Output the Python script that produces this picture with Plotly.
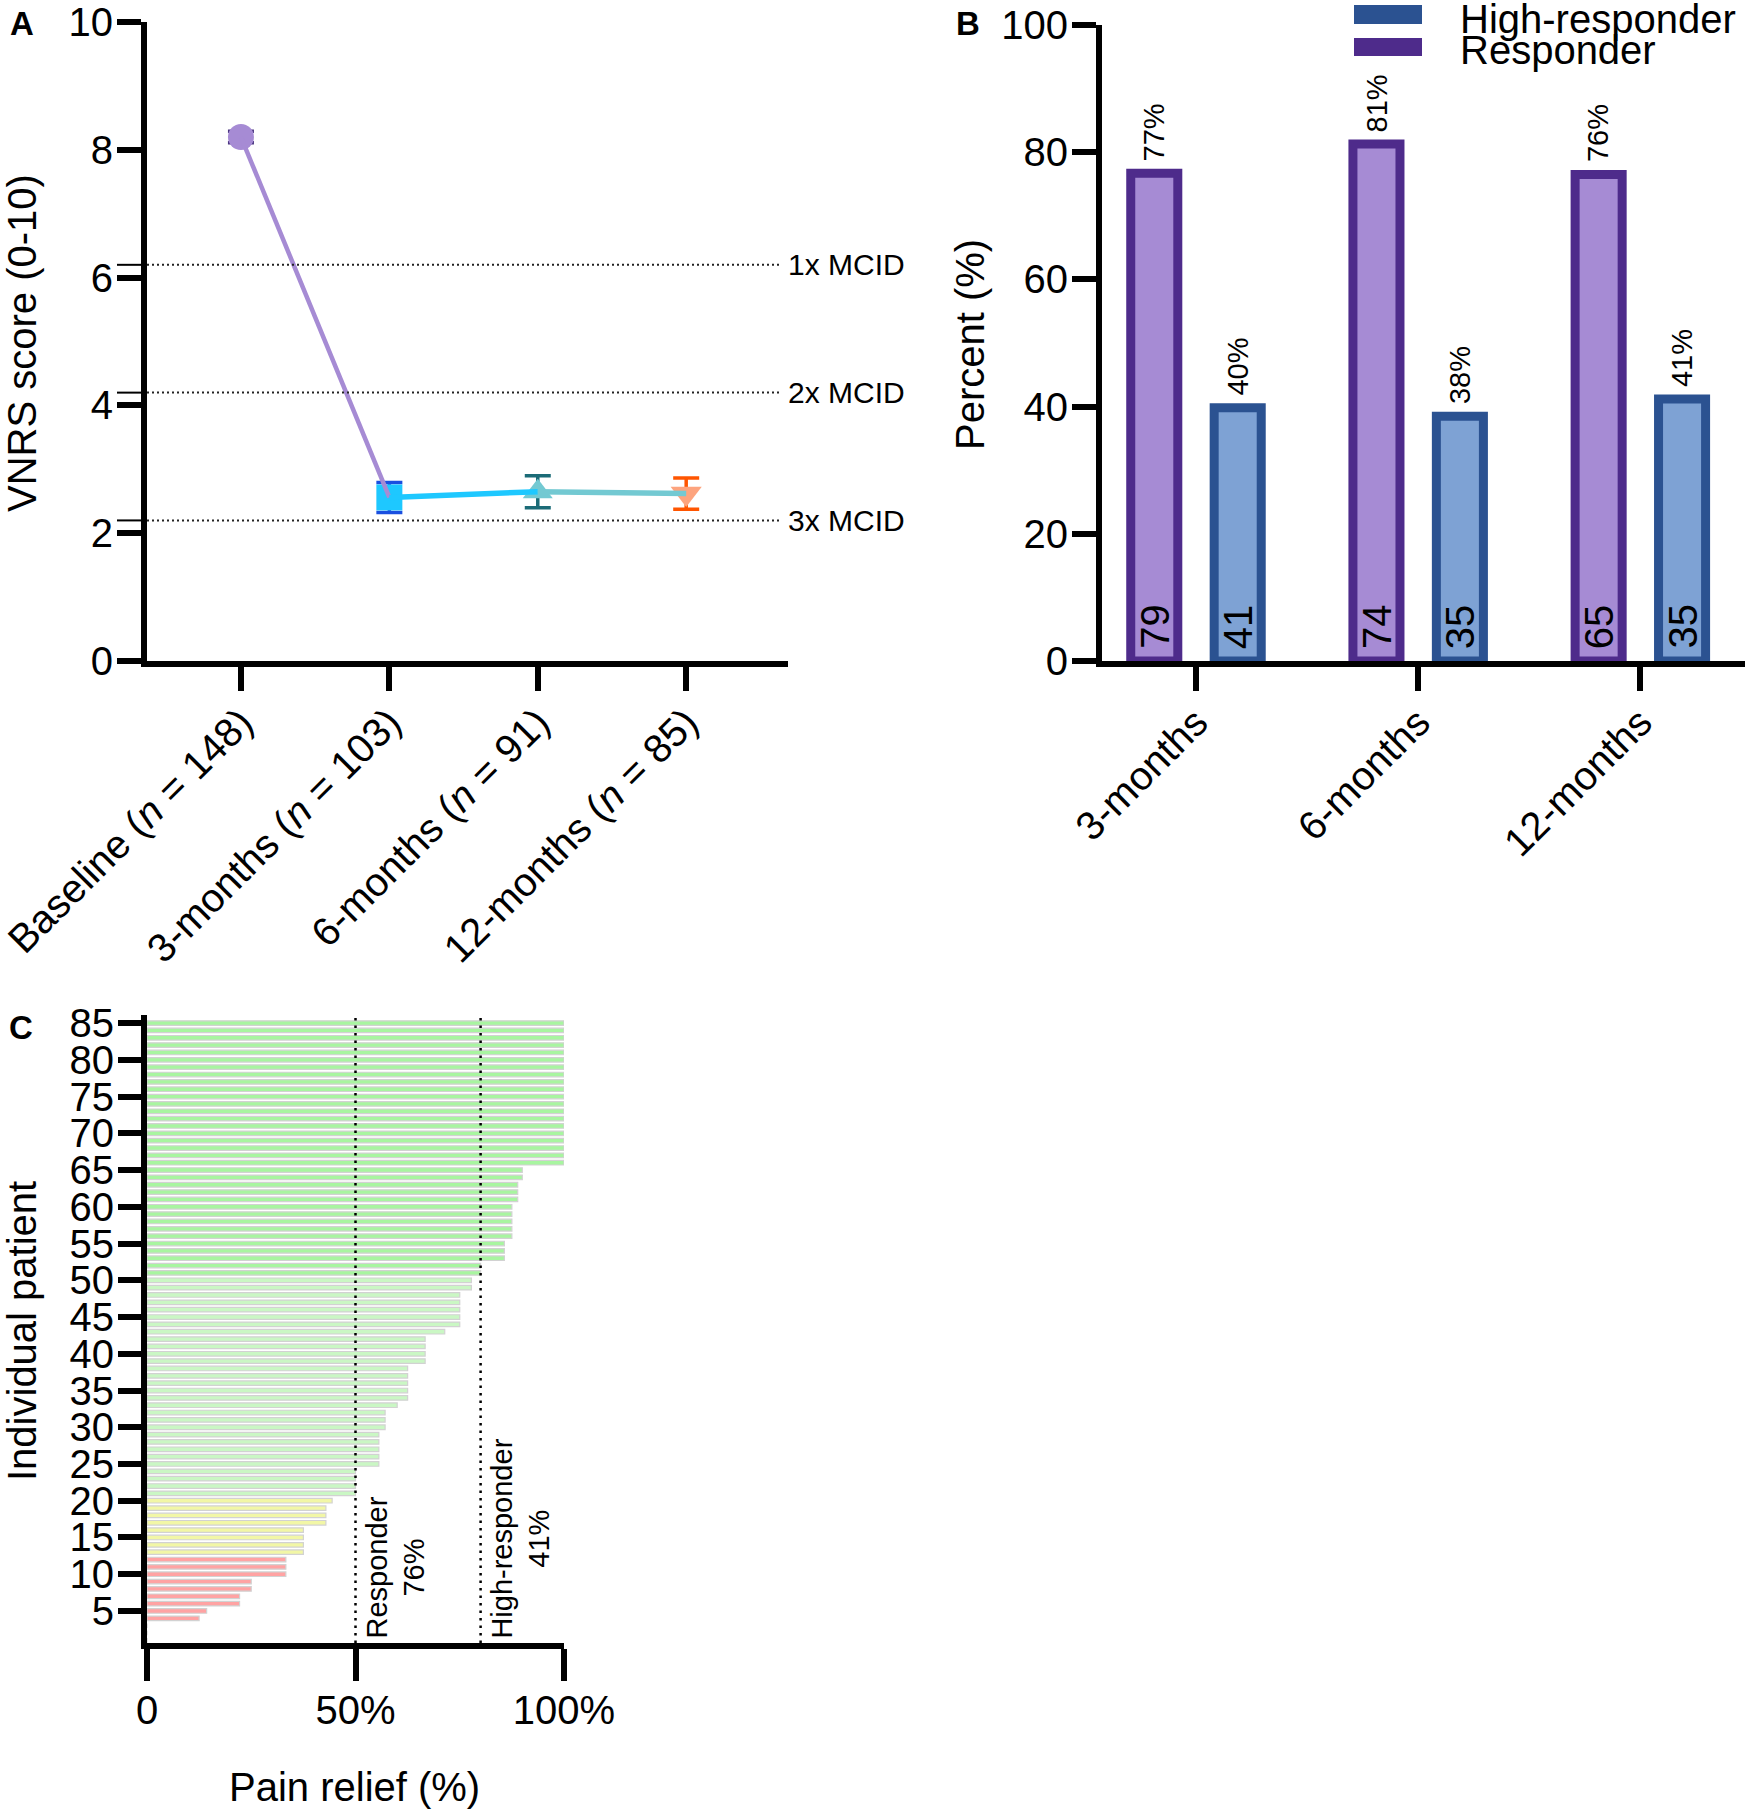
import plotly.graph_objects as go

# ---------------- data ----------------
# Panel A
timepoints = ["Baseline (<i>n</i> = 148)", "3-months (<i>n</i> = 103)",
              "6-months (<i>n</i> = 91)", "12-months (<i>n</i> = 85)"]
vnrs_mean = [8.20, 2.56, 2.65, 2.62]
vnrs_err = [0.09, 0.235, 0.25, 0.245]
mcid_levels = [6.2, 4.2, 2.2]
mcid_labels = ["1x MCID", "2x MCID", "3x MCID"]

# Panel B
months = ["3-months", "6-months", "12-months"]
responder_pct = [76.7, 81.3, 76.5]
high_pct = [39.8, 38.5, 41.2]
responder_lbl = ["77%", "81%", "76%"]
high_lbl = ["40%", "38%", "41%"]
responder_n = [79, 74, 65]
high_n = [41, 35, 35]

# Panel C (patients 1..85, sorted)
patients = list(range(1, 86))
pain_relief = ([0, 0, 0, 12.5, 14.3, 22.2, 22.2, 25, 25, 33.3, 33.3, 33.3,
                37.5, 37.5, 37.5, 37.5, 42.9, 42.9, 42.9, 44.4,
                50, 50, 50, 50, 55.6, 55.6, 55.6, 55.6, 55.6, 57.1, 57.1, 57.1,
                60, 62.5, 62.5, 62.5, 62.5, 62.5, 66.7, 66.7, 66.7, 66.7, 71.4,
                75, 75, 75, 75, 75, 77.8, 77.8, 80, 80, 85.7, 85.7, 85.7,
                87.5, 87.5, 87.5, 87.5, 87.5, 88.9, 88.9, 88.9, 90, 90]
               + [100] * 20)
thresholds = [50, 80]
threshold_labels = ["Responder<br>76%", "High-responder<br>41%"]

# ---------------- styling helpers ----------------
W, H = 1745, 1810
FONT = "Liberation Sans, Arial, sans-serif"


def px_x(p):
    return p / W


def px_y(p):
    return 1 - p / H


axis_common = dict(showline=True, linecolor="black", linewidth=6, ticks="outside",
                   tickwidth=6, tickcolor="black", showgrid=False, zeroline=False,
                   automargin=False, ticklabeloverflow="allow",
                   tickfont=dict(family=FONT, size=40, color="black"))

fig = go.Figure()

# ---------------- Panel A ----------------
mk_fill = ["#a68bd4", "#1ec8ff", "#73c9d2", "#fda47e"]
mk_cap = ["#4a3580", "#1a4fe0", "#1b6b77", "#ff5500"]
mk_sym = ["circle", "square", "triangle-up", "triangle-down"]
mk_size = [26, 26, 26, 27]
for i in range(4):
    fig.add_trace(go.Scatter(
        x=[i], y=[vnrs_mean[i]], mode="markers", xaxis="x", yaxis="y",
        marker=dict(symbol=mk_sym[i], size=mk_size[i], color=mk_fill[i], line=dict(width=0)),
        error_y=dict(type="data", array=[vnrs_err[i]], visible=True, color=mk_cap[i],
                     thickness=3.5, width=13),
        showlegend=False, hoverinfo="skip"))
seg_col = ["#a68bd4", "#1ec8ff", "#73c9d2"]
seg_w = [4.5, 5.5, 5.5]
for i in range(3):
    fig.add_trace(go.Scatter(
        x=[i, i + 1], y=[vnrs_mean[i], vnrs_mean[i + 1]], mode="lines",
        xaxis="x", yaxis="y", line=dict(color=seg_col[i], width=seg_w[i]),
        showlegend=False, hoverinfo="skip"))

for lvl, lab in zip(mcid_levels, mcid_labels):
    fig.add_shape(type="line", xref="x domain", yref="y", x0=0, x1=(782 - 147) / (788 - 147),
                  y0=lvl, y1=lvl, line=dict(color="#222222", width=2, dash="2px,3px"))
    fig.add_shape(type="line", xref="paper", yref="y", x0=px_x(117), x1=px_x(141),
                  y0=lvl, y1=lvl, line=dict(color="black", width=2))
    fig.add_annotation(text=lab, xref="paper", yref="y", x=px_x(786), y=lvl,
                       xanchor="left", yanchor="middle", showarrow=False,
                       font=dict(family=FONT, size=30, color="black"))

# ---------------- Panel B ----------------
fig.add_trace(go.Bar(x=months, y=responder_pct, xaxis="x2", yaxis="y2", name="Responder",
                     marker=dict(color="#a68bd4", line=dict(color="#4e2b8b", width=9)),
                     showlegend=False, hoverinfo="skip"))
fig.add_trace(go.Bar(x=months, y=high_pct, xaxis="x2", yaxis="y2", name="High-responder",
                     marker=dict(color="#7ea2d4", line=dict(color="#2b5291", width=9)),
                     showlegend=False, hoverinfo="skip"))
for m, v, lab, n in zip(months, responder_pct, responder_lbl, responder_n):
    fig.add_annotation(text=lab, x=m, y=v, xref="x2", yref="y2", xshift=-41.7, yshift=10,
                       textangle=-90, xanchor="center", yanchor="bottom", showarrow=False,
                       font=dict(family=FONT, size=29, color="black"))
    fig.add_annotation(text=str(n), x=m, y=0, xref="x2", yref="y2", xshift=-41.7, yshift=10,
                       textangle=-90, xanchor="center", yanchor="bottom", showarrow=False,
                       font=dict(family=FONT, size=40, color="black"))
for m, v, lab, n in zip(months, high_pct, high_lbl, high_n):
    fig.add_annotation(text=lab, x=m, y=v, xref="x2", yref="y2", xshift=41.7, yshift=10,
                       textangle=-90, xanchor="center", yanchor="bottom", showarrow=False,
                       font=dict(family=FONT, size=29, color="black"))
    fig.add_annotation(text=str(n), x=m, y=0, xref="x2", yref="y2", xshift=41.7, yshift=10,
                       textangle=-90, xanchor="center", yanchor="bottom", showarrow=False,
                       font=dict(family=FONT, size=40, color="black"))

# manual legend
fig.add_shape(type="rect", xref="paper", yref="paper", x0=px_x(1354), x1=px_x(1422),
              y0=px_y(24), y1=px_y(5), fillcolor="#2b5291", line=dict(width=0))
fig.add_shape(type="rect", xref="paper", yref="paper", x0=px_x(1354), x1=px_x(1422),
              y0=px_y(56), y1=px_y(38), fillcolor="#4e2b8b", line=dict(width=0))
fig.add_annotation(text="High-responder", xref="paper", yref="paper", x=px_x(1458), y=px_y(19),
                   xanchor="left", yanchor="middle", showarrow=False,
                   font=dict(family=FONT, size=40, color="black"))
fig.add_annotation(text="Responder", xref="paper", yref="paper", x=px_x(1458), y=px_y(50),
                   xanchor="left", yanchor="middle", showarrow=False,
                   font=dict(family=FONT, size=40, color="black"))


# ---------------- Panel C ----------------
def relief_color(v):
    if v >= 80:
        return "#a8f5a0"
    if v >= 50:
        return "#caf7c4"
    if v >= 35:
        return "#f2f7a6"
    return "#ffa3a3"


fig.add_trace(go.Bar(x=pain_relief, y=patients, orientation="h", xaxis="x3", yaxis="y3",
                     width=0.62,
                     marker=dict(color=[relief_color(v) for v in pain_relief],
                                 line=dict(color="#d2d2d2", width=1.2)),
                     showlegend=False, hoverinfo="skip"))
for t, lab in zip(thresholds, threshold_labels):
    fig.add_shape(type="line", xref="x3", yref="y3 domain", x0=t, x1=t, y0=0, y1=1,
                  line=dict(color="black", width=2.5, dash="2.5px,5px"))
    fig.add_annotation(text=lab, xref="x3", yref="paper", x=t, y=px_y(1641), xshift=3,
                       textangle=-90, xanchor="left", yanchor="bottom", showarrow=False,
                       align="center", font=dict(family=FONT, size=29, color="black"))

# ---------------- titles / panel letters ----------------
titles = [("VNRS score (0-10)", 22, 343), ("Percent (%)", 970, 345),
          ("Individual patient", 22, 1331)]
for txt, x, y in titles:
    fig.add_annotation(text=txt, xref="paper", yref="paper", x=px_x(x), y=px_y(y),
                       textangle=-90, xanchor="center", yanchor="middle", showarrow=False,
                       font=dict(family=FONT, size=40, color="black"))
fig.add_annotation(text="Pain relief (%)", xref="paper", yref="paper", x=px_x(354), y=px_y(1787),
                   xanchor="center", yanchor="middle", showarrow=False,
                   font=dict(family=FONT, size=40, color="black"))
for txt, x, y in [("A", 22, 23), ("B", 968, 23), ("C", 21, 1027)]:
    fig.add_annotation(text="<b>%s</b>" % txt, xref="paper", yref="paper", x=px_x(x), y=px_y(y),
                       xanchor="center", yanchor="middle", showarrow=False,
                       font=dict(family=FONT, size=33, color="black"))

# ---------------- axes ----------------
fig.update_layout(
    width=W, height=H, margin=dict(l=0, r=0, t=0, b=0, autoexpand=False),
    paper_bgcolor="white", plot_bgcolor="white",
    barmode="group", bargap=0.249, bargroupgap=0.436,
    showlegend=False,
    xaxis=dict(axis_common, domain=[px_x(147), px_x(788)], range=[-0.633, 3.686],
               tickvals=[0, 1, 2, 3], ticktext=timepoints, tickangle=-45, ticklen=24,
               ticklabelstandoff=-8, anchor="y"),
    yaxis=dict(axis_common, domain=[px_y(661), px_y(22)], range=[0, 10],
               tickvals=[0, 2, 4, 6, 8, 10], ticklen=24, ticklabelstandoff=-4, anchor="x"),
    xaxis2=dict(axis_common, domain=[px_x(1102), 1.0], range=[-0.423, 2.471],
                type="category", tickangle=-45, ticklen=24, ticklabelstandoff=-8,
                anchor="y2"),
    yaxis2=dict(axis_common, domain=[px_y(661), px_y(25)], range=[0, 100],
                tickvals=[0, 20, 40, 60, 80, 100], ticklen=24, ticklabelstandoff=-4,
                anchor="x2"),
    xaxis3=dict(axis_common, domain=[px_x(147), px_x(564)], range=[0, 100],
                tickvals=[0, 50, 100], ticktext=["0", "50%", "100%"], ticklen=32,
                ticklabelstandoff=-5, anchor="y3"),
    yaxis3=dict(axis_common, domain=[px_y(1643), px_y(1015)], range=[0.64, 86.1],
                tickvals=list(range(5, 86, 5)), ticklen=23, ticklabelstandoff=-4,
                anchor="x3"),
)

# remove the default page margin so the figure fills the window exactly
fig.write_html("out.html", config={"displayModeBar": False},
               post_script="document.body.style.margin='0';")
